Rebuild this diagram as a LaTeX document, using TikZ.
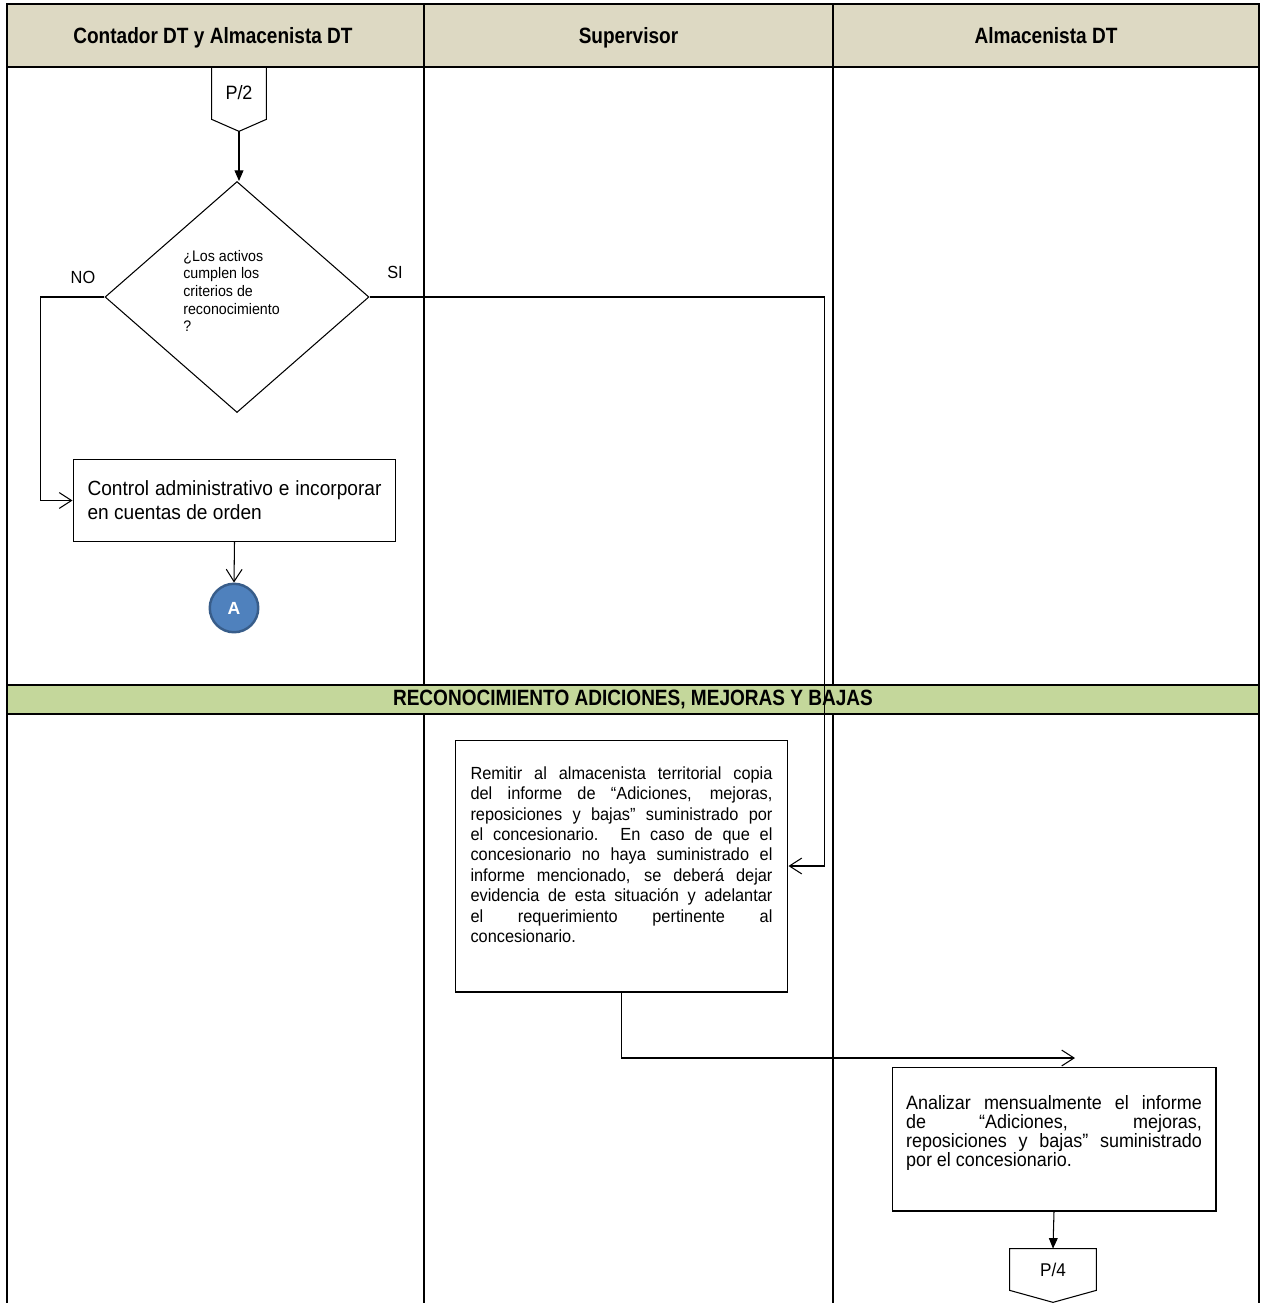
\documentclass[tikz,border=0pt]{standalone}
\usepackage{fontspec}
\setmainfont{Liberation Sans}
\newfontfamily\nwfont[FakeStretch=0.93]{Liberation Sans}
\newfontfamily\hdfont[FakeStretch=0.86]{Liberation Sans}
\usetikzlibrary{arrows.meta}
\usetikzlibrary{shapes.geometric}
\usetikzlibrary{calc}
\definecolor{hdbg}{RGB}{221,217,195}
\definecolor{bandbg}{RGB}{196,215,155}
\definecolor{cfill}{RGB}{79,129,189}
\definecolor{cline}{RGB}{56,93,138}
\newcommand{\lift}[1]{\par\nointerlineskip\vbox to #1{}}
\tikzset{
  tb/.style={line width=1.2pt},
  hd/.style={inner sep=0pt,anchor=base,font=\hdfont\bfseries\fontsize{12.6}{14}\selectfont},
  bx/.style={draw,line width=0.6pt,inner ysep=0pt,align=justify},
  lb/.style={inner sep=0pt,font=\nwfont\fontsize{10}{12}\selectfont},
  pg/.style={inner sep=0pt,font=\nwfont\fontsize{11}{13}\selectfont},
  ob/.style={line width=0.6pt,-{Straight Barb[length=7pt,width=9pt]}},
  fa/.style={line width=0.6pt,-{Triangle[length=6pt,width=5pt]}},
  cr/.style={circle,fill=cfill,draw=cline,line width=1.4pt,minimum size=0.97cm,inner sep=0pt,
    text=white,font=\bfseries\fontsize{10}{12}\selectfont}
}

\begin{document}
\begin{tikzpicture}[x=0.02cm,y=-0.02cm]
  \useasboundingbox (0,0) rectangle (1262,1303);
  \draw[tb,fill=hdbg] (7,4) rectangle (1259,67);
  \draw[tb,fill=bandbg] (7,685) rectangle (1259,714);
  \foreach \x in {7,424,833,1259}
    \draw[tb] (\x,4) -- (\x,685) (\x,714) -- (\x,1303);
  \node[hd] (h1) at (213,43) {Contador DT y Almacenista DT};
  \node[hd] (h2) at (628.5,43) {Supervisor};
  \node[hd] (h3) at (1046,43) {Almacenista DT};
  \node[hd] (bd) at (633,705) {RECONOCIMIENTO ADICIONES, MEJORAS Y BAJAS};

  \node[pg,minimum width=1.08cm,minimum height=1.04cm] (p2) at (239,93) {P/2};
  \draw[line width=0.6pt] (p2.north west) -- (p2.north east) -- (p2.south east)
    -- ($(p2.south)+(0,12)$) coordinate (p2tip) -- (p2.south west) -- cycle;
  \node[diamond,draw,line width=0.6pt,minimum width=5.28cm,minimum height=4.62cm,inner sep=0pt] (dec) at (237,297) {};
  \node[inner sep=0pt,anchor=west,align=left,font=\nwfont\fontsize{8.7}{10}\selectfont] (dq) at (183,291)
    {¿Los activos\\cumplen los\\criterios de\\reconocimiento\\?};
  \node[lb] (no) at (83,277) {NO};
  \node[lb] (si) at (395,272) {SI};
  \node[bx,text width=5.88cm,inner xsep=0.29cm,minimum height=1.64cm,
    font=\nwfont\fontsize{11.7}{13.8}\selectfont] (ctl) at (234.5,500.5)
    {Control administrativo e incorporar\linebreak en cuentas de orden};
  \node[cr] (cA) at (234,608) {A};

  \node[bx,text width=6.04cm,inner xsep=0.31cm,minimum height=5.04cm,
    font=\nwfont\fontsize{10}{11.6}\selectfont] (rem) at (621.5,866)
    {Remitir al almacenista territorial copia\linebreak
     del informe de “Adiciones, mejoras,\linebreak
     reposiciones y bajas” suministrado por\linebreak
     el concesionario. En caso de que el\linebreak
     concesionario no haya suministrado el\linebreak
     informe mencionado, se deberá dejar\linebreak
     evidencia de esta situación y adelantar\linebreak
     el requerimiento pertinente al\linebreak
     concesionario.\lift{13pt}};
  \node[bx,text width=5.92cm,inner xsep=0.28cm,minimum height=2.88cm,
    font=\nwfont\fontsize{11}{10.9}\selectfont] (ana) at (1054,1139)
    {Analizar mensualmente el informe\linebreak
     de “Adiciones, mejoras,\linebreak
     reposiciones y bajas” suministrado\linebreak
     por el concesionario.\lift{7pt}};
  \node[pg,minimum width=1.72cm,minimum height=0.82cm,font=\nwfont\fontsize{10.5}{12}\selectfont] (p4) at (1053,1269.5) {P/4};
  \draw[line width=0.6pt] (p4.north west) -- (p4.north east) -- (p4.south east)
    -- ($(p4.south)+(0,12)$) -- (p4.south west) -- cycle;
  \coordinate (ae) at (1075,1058);

  \draw[fa] (p2tip) -- (p2tip|-dec.north);
  \draw[ob] (dec.west) -- ++(-64,0) |- (ctl.west);
  \draw[ob] (dec.east) -| ($(rem.east)+(36,0)$) -- (rem.east);
  \draw[ob] (ctl.south) -- (cA.north);
  \draw[ob] (rem.south) |- (ae);
  \draw[fa] (ana.south) -- (p4.north);
\end{tikzpicture}
\end{document}
